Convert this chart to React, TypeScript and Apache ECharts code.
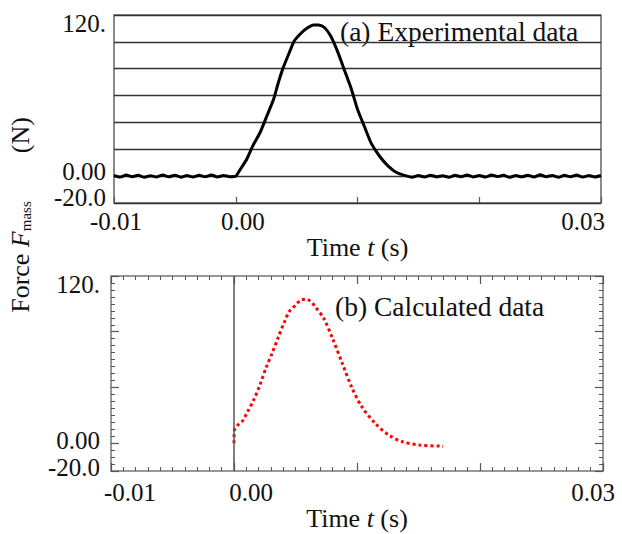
import React, { useEffect, useRef } from 'react';
import * as echarts from 'echarts';

// ---------- data ----------
const expTime = [
  -0.0100, -0.0095, -0.0090, -0.0085, -0.0080, -0.0075, -0.0070, -0.0065, -0.0060, -0.0055,
  -0.0050, -0.0045, -0.0040, -0.0035, -0.0030, -0.0025, -0.0020, -0.0015, -0.0010, -0.0005,
  0.0000, 0.0003, 0.0009, 0.0014, 0.0020, 0.0025, 0.0031, 0.0035, 0.0039, 0.0044,
  0.0048, 0.0054, 0.0059, 0.0064, 0.0068, 0.0073, 0.0078, 0.0084, 0.0089, 0.0095,
  0.0100, 0.0106, 0.0111, 0.0118, 0.0125, 0.0132, 0.0140, 0.0145,
  0.0150, 0.0155, 0.0160, 0.0165, 0.0170, 0.0175, 0.0180, 0.0185, 0.0190, 0.0195,
  0.0200, 0.0205, 0.0210, 0.0215, 0.0220, 0.0225, 0.0230, 0.0235, 0.0240, 0.0245,
  0.0250, 0.0255, 0.0260, 0.0265, 0.0270, 0.0275, 0.0280, 0.0285, 0.0290, 0.0295, 0.0300,
];
const expForce = [
  0.5, -0.7, 0.8, -0.4, 0.6, -0.8, 0.3, -0.6, 0.9, -0.5,
  0.7, -0.8, 0.4, -0.7, 0.6, -0.5, 0.8, -0.6, 0.5, -0.4,
  0.0, 4.0, 12.6, 22.5, 32.5, 43.6, 57.0, 69.7, 80.8, 92.0,
  100.6, 106.8, 110.5, 112.6, 112.5, 110.5, 104.3, 92.0, 79.6, 64.7,
  49.8, 36.2, 25.0, 15.0, 7.7, 2.7, 0.2, -0.8,
  0.4, -0.6, 0.7, -0.5, 0.3, -0.8, 0.6, -0.4, 0.9, -0.6,
  0.5, -0.7, 0.8, -0.3, 0.6, -0.9, 0.4, -0.5, 0.7, -0.6,
  1.0, -0.4, 0.5, -0.8, 0.6, -0.5, 0.8, -0.7, 0.4, -0.6, 0.5,
];

const calcTime = [
  0.0, 0.00003, 0.00025, 0.0007, 0.0011, 0.0016, 0.0021, 0.0026, 0.0031, 0.0036,
  0.0041, 0.0045, 0.0050, 0.0054, 0.0058, 0.0062, 0.0066, 0.0073, 0.0080, 0.0088,
  0.0096, 0.0104, 0.0115, 0.0126, 0.0137, 0.0151, 0.0170,
];
const calcForce = [
  0.0, 9.0, 12.4, 16.0, 22.5, 31.0, 41.6, 54.0, 64.6, 76.0,
  87.0, 94.6, 99.0, 102.6, 103.4, 102.0, 98.0, 89.5, 75.4, 57.4,
  39.5, 26.0, 14.0, 5.7, 1.0, -1.4, -2.2,
];

const xTickValues = [-0.01, 0.0, 0.03];
const xTickTexts = ['-0.01', '0.00', '0.03'];
const yTickValues = [-20, 0, 120];
const yTickTexts = ['-20.0', '0.00', '120.'];

const xName = 'Time';
const xVar = 't';
const xUnit = '(s)';
const yNameWord = 'Force';
const yVar = 'F';
const yVarSub = 'mass';
const yUnit = '(N)';
const panelA = '(a) Experimental data';
const panelB = '(b) Calculated data';

// ---------- styles ----------
const FONT = '"Liberation Serif", "Times New Roman", serif';
const TICK_FS = 25;
const NAME_FS = 26;
const TXT = '#111';

function idx(list: number[], v: number) {
  for (let i = 0; i < list.length; i++) if (Math.abs(list[i] - v) < 1e-9) return i;
  return -1;
}
function xFmt(v: number) {
  const i = idx(xTickValues, v);
  return i < 0 ? '' : `{x${i}|${xTickTexts[i]}}`;
}
function yFmt(v: number) {
  const i = idx(yTickValues, v);
  return i < 0 ? '' : `{y${i}|${yTickTexts[i]}}`;
}
const tok = (padding: number[]) => ({ fontFamily: FONT, fontSize: TICK_FS, color: TXT, padding });

export default function App() {
  const ref = useRef<HTMLDivElement>(null);
  useEffect(() => {
    if (!ref.current) return;
    const chart = echarts.init(ref.current, null, { renderer: 'svg' });
    const expData = expTime.map((t, i) => [t, expForce[i]]);
    const calcData = calcTime.map((t, i) => [t, calcForce[i]]);

    const nameStyle = {
      fontFamily: FONT, fontSize: NAME_FS, color: TXT,
      rich: {
        i: { fontFamily: FONT, fontSize: NAME_FS, color: TXT, fontStyle: 'italic' },
      },
    };
    const xBase = {
      type: 'value', min: -0.01, max: 0.03, interval: 0.01,
      splitLine: { show: false },
      axisLine: { show: false, onZero: false },
    };
    const yNoLine = { show: false, onZero: false };

    const option: any = {
      animation: false,
      backgroundColor: '#fff',
      grid: [
        { left: 114, top: 15, width: 487, height: 188, show: true, borderColor: '#666', borderWidth: 1.5, backgroundColor: 'transparent' },
        { left: 111, top: 276, width: 492, height: 195, show: true, borderColor: '#777', borderWidth: 1.5, backgroundColor: 'transparent' },
      ],
      xAxis: [
        {
          ...xBase, gridIndex: 0, position: 'bottom',
          axisTick: { show: true, inside: true, length: 6, lineStyle: { color: '#555', width: 1.2 } },
          axisLabel: {
            margin: 6, formatter: xFmt, hideOverlap: false, showMinLabel: true, showMaxLabel: true,
            rich: { x0: tok([0, 0, 0, 4]), x1: tok([0, 0, 0, 14]), x2: tok([0, 36, 0, 0]) },
          },
          name: `${xName} {i|${xVar}} ${xUnit}`, nameLocation: 'middle', nameGap: 26, nameTextStyle: nameStyle,
        },
        {
          ...xBase, gridIndex: 1, position: 'bottom',
          axisTick: { show: true, inside: true, length: 8, lineStyle: { color: '#555', width: 1.2 } },
          minorTick: { show: true, splitNumber: 10, length: 4, lineStyle: { color: '#555', width: 1 } },
          axisLabel: {
            margin: 9, formatter: xFmt, hideOverlap: false, showMinLabel: true, showMaxLabel: true,
            rich: { x0: tok([0, 0, 0, 38]), x1: tok([0, 0, 0, 34]), x2: tok([0, 20, 0, 0]) },
          },
          name: `${xName} {i|${xVar}} ${xUnit}`, nameLocation: 'middle', nameGap: 33, nameTextStyle: nameStyle,
        },
        {
          ...xBase, gridIndex: 1, position: 'top',
          axisTick: { show: true, inside: true, length: 8, lineStyle: { color: '#555', width: 1.2 } },
          minorTick: { show: true, splitNumber: 10, length: 4, lineStyle: { color: '#555', width: 1 } },
          axisLabel: { show: false },
        },
      ],
      yAxis: [
        {
          type: 'value', gridIndex: 0, min: -20, max: 120, interval: 20,
          axisLine: yNoLine, axisTick: { show: false },
          splitLine: { show: true, lineStyle: { color: '#333', width: 1.4 } },
          axisLabel: {
            margin: 8, formatter: yFmt, hideOverlap: false, showMinLabel: true, showMaxLabel: true,
            rich: { y0: tok([0, 0, 12, 0]), y1: tok([0, 0, 9, 0]), y2: tok([16, 0, 0, 0]) },
          },
        },
        {
          type: 'value', gridIndex: 1, min: -20, max: 120, minInterval: 40, maxInterval: 40, splitNumber: 4,
          axisLine: yNoLine, splitLine: { show: false },
          axisTick: { show: true, inside: true, length: 8, lineStyle: { color: '#555', width: 1.2 } },
          minorTick: { show: true, splitNumber: 8, length: 4, lineStyle: { color: '#555', width: 1 } },
          axisLabel: {
            margin: 11, formatter: yFmt, hideOverlap: false, showMinLabel: true, showMaxLabel: true,
            rich: { y0: tok([0, 0, 8, 0]), y1: tok([0, 0, 6, 0]), y2: tok([16, 0, 0, 0]) },
          },
        },
        {
          type: 'value', gridIndex: 1, position: 'right', min: -20, max: 120, minInterval: 40, maxInterval: 40, splitNumber: 4,
          axisLine: yNoLine, splitLine: { show: false },
          axisTick: { show: true, inside: true, length: 8, lineStyle: { color: '#555', width: 1.2 } },
          minorTick: { show: true, splitNumber: 8, length: 4, lineStyle: { color: '#555', width: 1 } },
          axisLabel: { show: false },
        },
      ],
      series: [
        {
          type: 'line', xAxisIndex: 0, yAxisIndex: 0, data: expData,
          showSymbol: false, smooth: 0.2,
          lineStyle: { color: '#000', width: 3 },
        },
        {
          type: 'line', xAxisIndex: 1, yAxisIndex: 1, data: calcData,
          showSymbol: false, smooth: 0.3,
          lineStyle: { color: '#ff0000', width: 3, type: [3, 3], cap: 'butt' },
          markLine: {
            silent: true, symbol: 'none', label: { show: false },
            lineStyle: { color: '#555', width: 1.5, type: 'solid' },
            data: [{ xAxis: 0 }],
          },
        },
      ],
      graphic: [
        {
          type: 'text', left: 340, top: 17,
          style: { text: panelA, fontFamily: FONT, fontSize: 27.5, fill: TXT },
        },
        {
          type: 'text', left: 335, top: 292,
          style: { text: panelB, fontFamily: FONT, fontSize: 27.5, fill: TXT },
        },
        {
          type: 'text', x: 20, y: 215, rotation: Math.PI / 2,
          style: {
            text: `{n|${yNameWord} }{i|${yVar}}{s|${yVarSub}}{u|${yUnit}}`,
            align: 'center', verticalAlign: 'middle',
            fontFamily: FONT, fontSize: NAME_FS, fill: TXT,
            rich: {
              n: { fontFamily: FONT, fontSize: NAME_FS, fill: TXT },
              i: { fontFamily: FONT, fontSize: NAME_FS, fill: TXT, fontStyle: 'italic' },
              s: { fontFamily: FONT, fontSize: 15, fill: TXT, verticalAlign: 'bottom', padding: [8, 0, 0, 0] },
              u: { fontFamily: FONT, fontSize: NAME_FS, fill: TXT, padding: [0, 0, 0, 48] },
            },
          },
        },
      ],
    };
    chart.setOption(option);
    return () => chart.dispose();
  }, []);
  return <div ref={ref} style={{ position: 'fixed', left: 0, top: 0, width: 622, height: 534 }} />;
}
